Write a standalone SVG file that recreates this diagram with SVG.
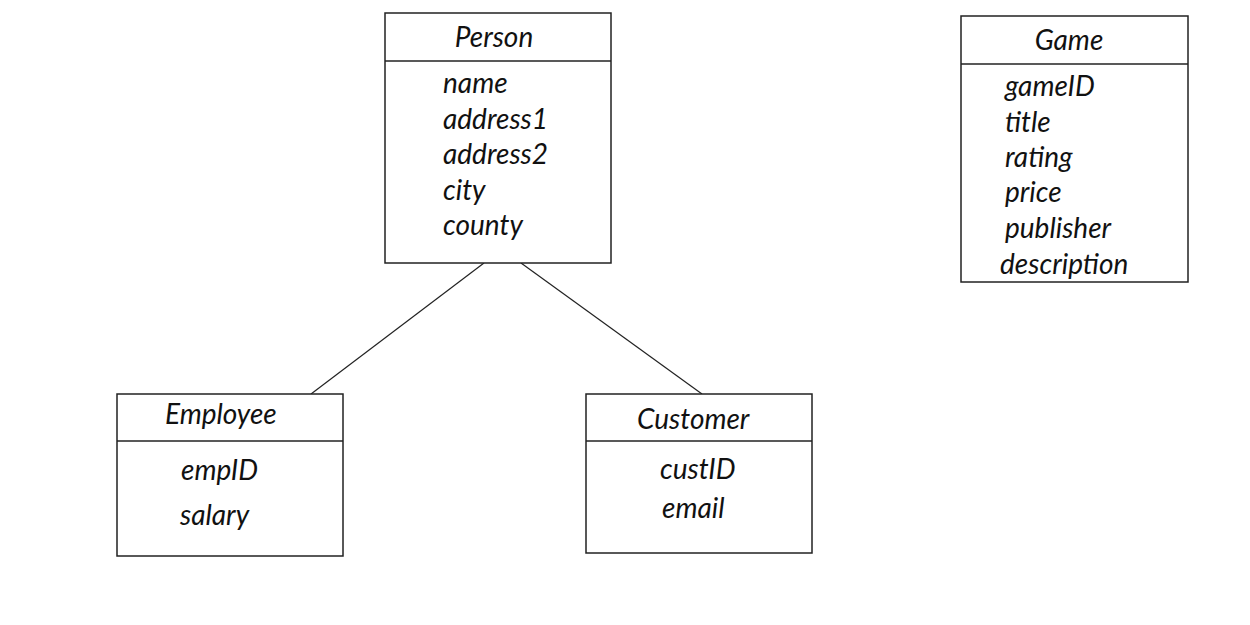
<svg xmlns="http://www.w3.org/2000/svg" width="1250" height="625" viewBox="0 0 1250 625">
<style>
.box{fill:#fff;stroke:#222;stroke-width:1.5}
.sep{stroke:#222;stroke-width:1.5}
.t{font-family:Lato,"Liberation Sans",sans-serif;font-style:italic;font-size:28px;fill:#111}
.c{text-anchor:middle}
.conn{stroke:#222;stroke-width:1.2;fill:none}
</style>
<rect width="1250" height="625" fill="#fff"/>
<g id="connectors">
<line class="conn" x1="484" y1="263" x2="311" y2="394"/>
<line class="conn" x1="521" y1="263" x2="702" y2="394"/>
</g>
<g id="person">
<rect class="box" x="385" y="13" width="226" height="250"/>
<line class="sep" x1="385" y1="61" x2="611" y2="61"/>
<text class="t c" x="494" y="47">Person</text>
<text class="t" x="443" y="93">name</text>
<text class="t" x="443" y="129">address1</text>
<text class="t" x="443" y="164">address2</text>
<text class="t" x="443" y="200">city</text>
<text class="t" x="443" y="235">county</text>
</g>
<g id="game">
<rect class="box" x="961" y="16" width="227" height="266"/>
<line class="sep" x1="961" y1="64" x2="1188" y2="64"/>
<text class="t c" x="1069" y="50">Game</text>
<text class="t" x="1005" y="96">gameID</text>
<text class="t" x="1005" y="132">title</text>
<text class="t" x="1005" y="167">rating</text>
<text class="t" x="1005" y="202">price</text>
<text class="t" x="1005" y="238">publisher</text>
<text class="t" x="1000" y="274">description</text>
</g>
<g id="employee">
<rect class="box" x="117" y="394" width="226" height="162"/>
<line class="sep" x1="117" y1="441" x2="343" y2="441"/>
<text class="t" x="165" y="424">Employee</text>
<text class="t" x="181" y="480">empID</text>
<text class="t" x="180" y="525">salary</text>
</g>
<g id="customer">
<rect class="box" x="586" y="394" width="226" height="159"/>
<line class="sep" x1="586" y1="441" x2="812" y2="441"/>
<text class="t" x="637" y="429">Customer</text>
<text class="t" x="660" y="479">custID</text>
<text class="t" x="662" y="518">email</text>
</g>
</svg>
